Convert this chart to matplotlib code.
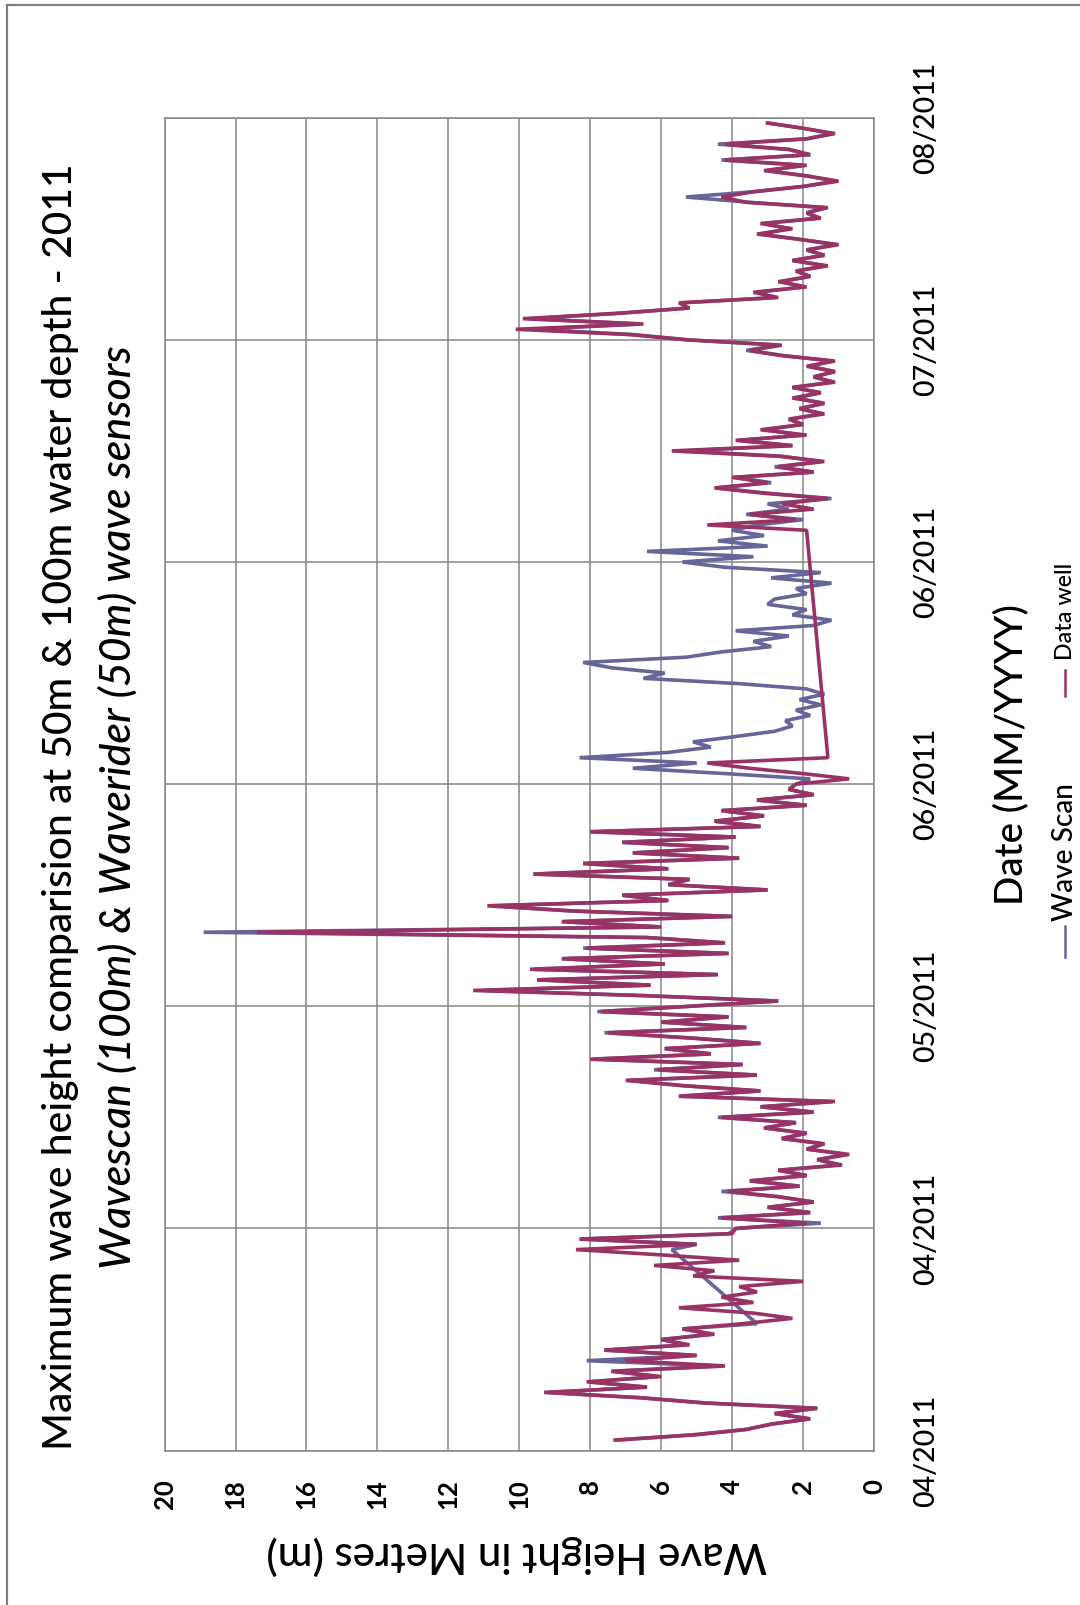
import numpy as np
import matplotlib.pyplot as plt
from matplotlib.lines import Line2D

nan = float("nan")

# wave heights (m), one value every half day starting at day 1 (day 0 = first 04/2011 tick)
data_well_p1 = [7.3, 5.0, 3.6, 2.9, 1.8, 2.8, 1.6, 4.8, 6.6, 9.3,
                6.4, 8.1, 6.0, 7.4, 4.2, 7.0, 5.0, 7.6, 5.2, 6.0,
                4.5, 5.4, 3.7, 2.3, 3.4, 5.5, 3.4, 4.3, 3.3, 3.8,
                2.0, 5.1, 4.5, 6.2, 3.8, 6.0, 8.4, 5.0, 8.3, 4.0]
data_well_p2 = [3.9, 1.9, 4.3, 1.8, 3.0, 1.7, 2.7, 4.1, 2.1, 3.5,
                1.9, 2.7, 0.9, 1.6, 0.7, 1.9, 1.4, 2.6, 1.9, 3.1,
                2.2, 4.3, 1.7, 3.2, 1.1, 5.5, 3.2, 5.4, 7.0, 3.3,
                6.1, 3.7, 8.0, 4.6, 5.9, 3.2, 5.2, 7.5, 3.6, 6.0,
                4.1, 7.7]
data_well_p3 = [5.2, 2.7, 6.4, 11.3, 6.3, 9.5, 4.4, 9.7, 5.9, 8.8,
                4.1, 8.1, 4.2, 6.4, 17.4, 6.0, 8.8, 4.0, 8.4, 10.9,
                5.8, 7.1, 3.0, 5.8, 5.2, 9.6, 5.8, 8.2, 3.8, 6.8,
                4.1, 7.1, 3.9, 8.0, 3.2, 4.5, 3.1, 4.3, 1.9, 3.3,
                1.7, 2.4]
data_well_p4 = [2.2, 0.7, 2.0, 3.5, 4.7, 1.3] + [nan] * 36
data_well_p5 = [nan, nan, nan, nan, nan, nan, 1.9, 4.7, 2.2, 3.5,
                1.7, 2.6, 1.3, 3.1, 4.5, 3.0, 4.0, 1.7, 2.7, 1.4,
                2.7, 5.7, 2.3, 3.9, 1.9, 3.2, 2.0, 2.4, 1.4, 2.1,
                1.4, 2.3, 1.5, 2.3, 1.1, 1.7, 1.1, 1.9, 1.1, 2.6,
                3.5, 2.6]
data_well_p6 = [5.3, 6.9, 10.1, 6.5, 9.9, 7.3, 5.2, 5.5, 2.7, 3.4,
                1.9, 2.7, 1.8, 2.2, 1.3, 2.3, 1.4, 1.9, 1.0, 2.1,
                3.3, 2.3, 3.2, 1.5, 1.9, 1.3, 3.6, 4.3, 3.4, 2.0,
                1.0, 1.9, 3.1, 1.9, 4.2, 1.8, 2.4, 4.2, 1.9, 1.1,
                2.0, 3.0]

wave_scan_p1 = [7.2, 5.1, 3.6, 2.9, 1.8, 2.8, 1.6, 4.7, 6.6, 9.2,
                6.4, 8.0, 6.1, 7.4, 4.3, 8.1, 5.0, 7.6, 5.3, 6.0,
                4.6, 5.4, 3.3, nan, nan, nan, nan, nan, nan, nan,
                nan, nan, nan, nan, nan, nan, 5.7, 5.0, 8.3, 4.1]
wave_scan_p2 = [3.9, 1.5, 4.4, 1.8, 3.0, 1.7, 2.7, 4.3, 2.1, 3.5,
                1.9, 2.7, 1.0, 1.6, 0.8, 1.9, 1.4, 2.6, 1.9, 3.1,
                2.2, 4.4, 1.7, 3.2, 1.2, 5.5, 3.2, 5.4, 6.9, 3.3,
                6.2, 3.7, 7.9, 4.6, 5.9, 3.2, 5.1, 7.6, 3.6, 6.0,
                4.1, 7.8]
wave_scan_p3 = [5.2, 2.7, 6.4, 11.0, 6.3, 9.5, 4.4, 9.6, 5.9, 8.8,
                4.1, 8.2, 4.2, 6.4, 18.9, 6.0, 8.8, 4.0, 8.5, 10.8,
                5.8, 7.1, 3.0, 5.8, 5.2, 9.6, 5.8, 8.2, 3.8, 6.8,
                4.1, 7.1, 3.9, 8.0, 3.2, 4.5, 3.1, 4.3, 1.9, 3.3,
                1.7, 2.4]
wave_scan_p4 = [2.2, 1.8, 4.2, 6.8, 5.0, 8.3, 5.8, 4.6, 5.1, 3.9,
                2.8, 2.3, 2.5, 1.8, 2.2, 1.5, 2.1, 1.4, 1.9, 3.8,
                6.5, 5.9, 7.4, 8.2, 5.3, 4.3, 2.9, 3.4, 2.4, 3.9,
                1.7, 1.2, 2.3, 1.9, 3.0, 2.8, 1.9, 2.2, 1.2, 2.9,
                1.5, 4.2]
wave_scan_p5 = [5.4, 3.4, 6.4, 3.0, 4.4, 3.1, 4.0, 3.3, 2.0, 3.6,
                2.4, 3.0, 1.2, 3.0, 4.4, 2.9, 3.9, 1.7, 2.8, 1.5,
                2.6, 5.4, 2.3, 3.8, 2.0, 3.1, 2.0, 2.4, 1.5, 2.1,
                1.4, 2.2, 1.5, 2.3, 1.2, 1.7, 1.1, 1.8, 1.2, 2.5,
                3.6, 2.7]
wave_scan_p6 = [5.2, 6.8, 9.6, 6.6, 9.7, 7.2, 5.3, 5.4, 2.8, 3.3,
                2.0, 2.6, 1.8, 2.2, 1.4, 2.3, 1.4, 1.9, 1.1, 2.1,
                3.2, 2.4, 3.1, 1.6, 1.9, 1.4, 3.5, 5.3, 3.4, 2.0,
                1.1, 1.9, 3.0, 2.0, 4.3, 1.8, 2.4, 4.4, 1.9, 1.2,
                2.0, 3.0]

date_ticks = [0, 21, 42, 63, 84, 105, 126]
date_labels = ["04/2011", "04/2011", "05/2011", "06/2011", "06/2011", "07/2011", "08/2011"]
height_ticks = [0, 2, 4, 6, 8, 10, 12, 14, 16, 18, 20]

W, H = 1080, 1605


def fit(fig, txt, length):
    # scale a rotated text so its long side spans `length` pixels
    bb = txt.get_window_extent(renderer=fig.canvas.get_renderer())
    cur = max(bb.width, bb.height)
    txt.set_fontsize(txt.get_fontsize() * length / cur)


def ftext(fig, x, y, s, length, **kw):
    t = fig.text(x / W, 1 - y / H, s, ha="center", va="center", family="Lato",
                 fontsize=20, fontweight=500, **kw)
    fit(fig, t, length)
    return t


def main(savename):
    days = 1.0 + 0.5 * np.arange(250)
    wave_scan = np.array(wave_scan_p1 + wave_scan_p2 + wave_scan_p3 + wave_scan_p4 + wave_scan_p5 + wave_scan_p6)
    data_well = np.array(data_well_p1 + data_well_p2 + data_well_p3 + data_well_p4 + data_well_p5 + data_well_p6)

    fig = plt.figure(figsize=(W / 100, H / 100), dpi=100)
    ax = fig.add_axes([164.6 / W, 1 - 1450.6 / H, (874 - 164.6) / W, (1450.6 - 117.7) / H])

    for vals, color in ((wave_scan, "#666699"), (data_well, "#993366")):
        ok = ~np.isnan(vals)
        ax.plot(vals[ok], days[ok], color=color, lw=2.6, solid_joinstyle="bevel")

    ax.set_xlim(20, 0)
    ax.set_ylim(0, 126)
    ax.set_xticks(height_ticks)
    ax.set_xticklabels([str(v) for v in height_ticks], rotation=90, family="Lato",
                       fontweight="bold", fontsize=18.5, va="top", ha="center")
    ax.yaxis.tick_right()
    ax.set_yticks(date_ticks)
    ax.set_yticklabels(date_labels, rotation=90, family="Lato", fontweight=500,
                       fontsize=20.5, va="center", ha="left")
    ax.tick_params(axis="x", length=0, pad=20.5)
    ax.tick_params(axis="y", length=0, pad=28)
    ax.grid(color="#868686", lw=1.1)
    ax.set_axisbelow(True)
    for sp in ax.spines.values():
        sp.set_color("#868686")
        sp.set_linewidth(1.1)

    ftext(fig, 61, 806.5, "Maximum wave height comparision at 50m & 100m water depth - 2011", 1285, rotation=90)
    ftext(fig, 118, 807.5, "Wavescan (100m) & Waverider (50m) wave sensors", 923, rotation=90, style="italic")
    ftext(fig, 1011, 755, "Date (MM/YYYY)", 302, rotation=90)
    ftext(fig, 517, 1555, "Wave Height in Metres (m)", 502, rotation=180)

    # legend, drawn by hand because it is rotated with the chart
    for (y0, y1), color in (((957, 926), "#666699"), ((696, 670), "#993366")):
        fig.add_artist(Line2D([1065 / W, 1065 / W], [1 - y0 / H, 1 - y1 / H], color=color, lw=1.8))
    ftext(fig, 1065, 852, "Wave Scan", 138, rotation=90)
    ftext(fig, 1065, 611.5, "Data well", 97, rotation=90)

    # outer chart border (top and left edges are inside the picture)
    fig.add_artist(Line2D([7 / W, 7 / W], [0, 1 - 5 / H], color="#7f7f7f", lw=1.6))
    fig.add_artist(Line2D([7 / W, 1], [1 - 5 / H, 1 - 5 / H], color="#7f7f7f", lw=1.6))

    fig.savefig(savename, dpi=100)


if __name__ == "__main__":
    main("out.png")
